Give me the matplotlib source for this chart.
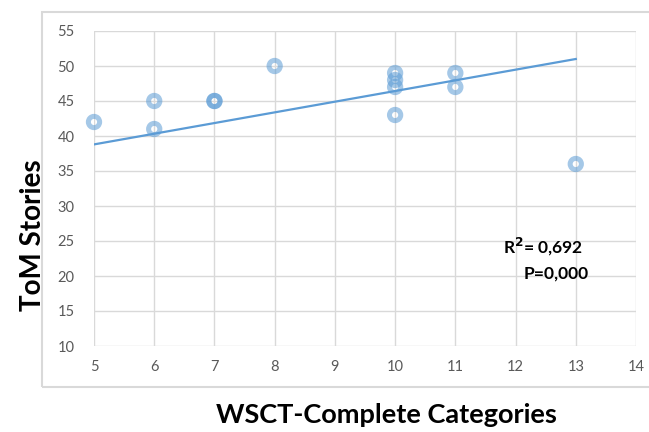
import matplotlib
matplotlib.use("Agg")
import matplotlib.pyplot as plt
from matplotlib.patches import Rectangle

plt.rcParams['font.family'] = ['Lato', 'DejaVu Sans']

wcst = [5, 6, 6, 7, 7, 8, 10, 10, 10, 10, 11, 11, 13]
tom = [42, 45, 41, 45, 45, 50, 49, 48, 47, 43, 49, 47, 36]
trend_x = [5, 13]
trend_y = [38.8, 51.0]
x_ticks = [5, 6, 7, 8, 9, 10, 11, 12, 13, 14]
y_ticks = [10, 15, 20, 25, 30, 35, 40, 45, 50, 55]

fig = plt.figure(figsize=(6.49, 4.32), dpi=100)
ax = fig.add_axes([94/649, 1-346/432, (636-94)/649, (346-31)/432])

# outer frame
fig.patches.append(Rectangle((42/649, 1-387/432), 620/649, (387-12)/432,
                             transform=fig.transFigure, fill=False,
                             edgecolor='#d9d9d9', linewidth=1.5, zorder=0))

ax.set_xlim(5, 14)
ax.set_ylim(10, 55)
ax.set_xticks(x_ticks)
ax.set_yticks(y_ticks)
ax.grid(True, color='#d9d9d9', linewidth=1)
ax.set_axisbelow(True)
for s in ax.spines.values():
    s.set_visible(False)
ax.tick_params(length=0, colors='#595959', labelsize=10.5, pad=10)
ax.tick_params(axis='y', pad=14)

ax.plot(trend_x, trend_y, color='#5b9bd5', linewidth=1.6, zorder=2)
ax.scatter(wcst, tom, s=66, facecolors='none', edgecolors='#5b9bd5',
           linewidths=3.6, alpha=0.55, zorder=3, clip_on=False)

ax.text(12.45, 24.1, 'R$^\\mathbf{2}$= 0,692', fontsize=12.5, fontweight='bold',
        color='black', ha='center', va='center')
ax.text(12.68, 20.4, 'P=0,000', fontsize=12.5, fontweight='bold',
        color='black', ha='center', va='center')

fig.text(33/649, 1-235/432, 'ToM Stories', rotation=90, fontsize=20, fontweight='bold',
         ha='center', va='center')
fig.text(386/649, 1-415/432, 'WSCT-Complete Categories', fontsize=19.5, fontweight='bold',
         ha='center', va='center')

fig.savefig('out.png', dpi=100)
